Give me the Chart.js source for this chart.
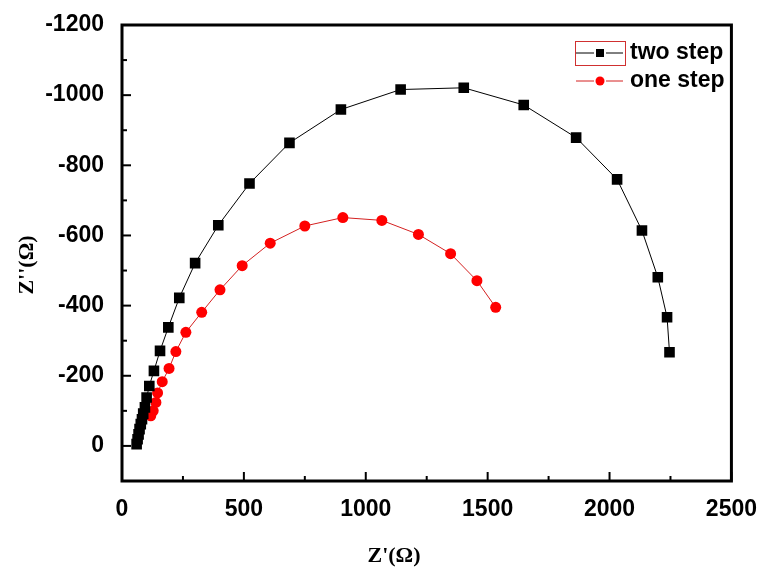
<!DOCTYPE html>
<html>
<head>
<meta charset="utf-8">
<script src="https://cdn.jsdelivr.net/npm/chart.js@4.4.0/dist/chart.umd.min.js"></script>
<style>
  body { margin: 0; background: #fff; }
  #wrap { width: 764px; height: 569px; }
</style>
</head>
<body>
<div id="wrap"><canvas id="myChart" width="764" height="569"></canvas></div>
<script>
// data
const twoStepX = [60, 64, 68, 72, 77, 82, 87, 94, 101, 112, 131, 156, 190, 235, 300, 395, 523, 687, 898, 1143, 1402, 1648, 1863, 2031, 2133, 2198, 2236, 2246];
const twoStepY = [-5, -19, -33, -48, -62, -76, -92, -110, -138, -171, -214, -271, -338, -422, -521, -629, -748, -864, -959, -1016, -1021, -972, -879, -760, -614, -481, -367, -267];

const oneStepX = [118, 128, 139, 146, 165, 193, 221, 262, 327, 402, 493, 608, 750, 906, 1066, 1216, 1348, 1456, 1533];
const oneStepY = [-86, -100, -124, -151, -183, -221, -269, -324, -381, -445, -514, -578, -627, -651, -643, -603, -548, -471, -395];

const xTicks = [0, 500, 1000, 1500, 2000, 2500];
const yTicks = [-1200, -1000, -800, -600, -400, -200, 0];

const seriesNames = ['two step', 'one step'];

const toPoints = (xs, ys) => xs.map((x, i) => ({x: x, y: ys[i]}));

// frame, inward ticks, axis titles, legend
const decor = {
    id: 'decor',
    afterDraw(chart) {
        const ctx = chart.ctx;
        const a = chart.chartArea;
        const xs = chart.scales.x;
        const ys = chart.scales.y;
        ctx.save();
        ctx.strokeStyle = '#000';
        ctx.lineWidth = 2;
        for (let v = 0; v <= 2500; v += 250) {
            const px = xs.getPixelForValue(v);
            const len = v % 500 === 0 ? 9 : 5;
            ctx.beginPath();
            ctx.moveTo(px, a.bottom);
            ctx.lineTo(px, a.bottom - len);
            ctx.stroke();
        }
        for (let v = -1200; v <= 0; v += 100) {
            const py = ys.getPixelForValue(v);
            const len = v % 200 === 0 ? 9 : 5;
            ctx.beginPath();
            ctx.moveTo(a.left, py);
            ctx.lineTo(a.left + len, py);
            ctx.stroke();
        }
        ctx.lineWidth = 3;
        ctx.strokeRect(a.left, a.top, a.right - a.left, a.bottom - a.top);

        // axis titles
        ctx.fillStyle = '#000';
        ctx.font = 'bold 22px "Liberation Serif", serif';
        ctx.textAlign = 'center';
        ctx.textBaseline = 'middle';
        ctx.fillText("Z'(\u03A9)", 394, 556);
        ctx.save();
        ctx.translate(27, 265);
        ctx.rotate(-Math.PI / 2);
        ctx.fillText("Z''(\u03A9)", 0, 0);
        ctx.restore();

        // legend
        const rows = [
            {y: 53, line: '#000', fill: '#000', shape: 'rect'},
            {y: 81, line: '#d42020', fill: '#ff0000', shape: 'circle'}
        ];
        ctx.font = 'bold 23px "Liberation Sans", Arial, sans-serif';
        ctx.textAlign = 'left';
        rows.forEach((r, i) => {
            ctx.strokeStyle = r.line;
            ctx.lineWidth = 1;
            ctx.beginPath();
            ctx.moveTo(576, r.y); ctx.lineTo(594, r.y);
            ctx.moveTo(606, r.y); ctx.lineTo(623, r.y);
            ctx.stroke();
            ctx.fillStyle = r.fill;
            if (r.shape === 'rect') {
                ctx.fillRect(596, r.y - 4, 8, 8);
            } else {
                ctx.beginPath();
                ctx.arc(600, r.y, 4.5, 0, Math.PI * 2);
                ctx.fill();
            }
            ctx.fillStyle = '#000';
            ctx.fillText(seriesNames[i], 630, r.y);
        });
        ctx.strokeStyle = '#d03030';
        ctx.lineWidth = 1;
        ctx.strokeRect(575.5, 41.5, 50, 24);
        ctx.restore();
    }
};

const config = {
    type: 'scatter',
    data: {
        datasets: [{
            label: seriesNames[0],
            data: toPoints(twoStepX, twoStepY),
            showLine: true,
            borderColor: '#000',
            borderWidth: 1,
            backgroundColor: '#000',
            pointStyle: 'rect',
            pointRadius: 7.5,
            pointBorderWidth: 0,
        },
            {
                label: seriesNames[1],
                data: toPoints(oneStepX, oneStepY),
                showLine: true,
                borderColor: '#d42020',
                borderWidth: 1,
                backgroundColor: '#ff0000',
                pointStyle: 'circle',
                pointRadius: 5.5,
                pointBorderWidth: 0,
            }
        ]
    },
    options: {
        responsive: false,
        animation: false,
        layout: {
            padding: {top: 25, right: 32, left: 0, bottom: 0}
        },
        scales: {
            x: {
                type: 'linear',
                min: 0,
                max: 2500,
                grid: {display: false},
                border: {display: false},
                afterFit: (s) => { s.height = 88; },
                afterBuildTicks: (s) => { s.ticks = xTicks.map(v => ({value: v})); },
                ticks: {
                    color: '#000',
                    padding: 7,
                    maxRotation: 0,
                    callback: (v) => String(v),
                    font: {family: '"Liberation Sans", Arial, sans-serif', size: 23, weight: 'bold'}
                }
            },
            y: {
                type: 'linear',
                reverse: true,
                min: -1200,
                max: 100,
                grid: {display: false},
                border: {display: false},
                afterFit: (s) => { s.width = 122; },
                afterBuildTicks: (s) => { s.ticks = yTicks.map(v => ({value: v})); },
                ticks: {
                    color: '#000',
                    padding: 10,
                    callback: (v) => String(v),
                    font: {family: '"Liberation Sans", Arial, sans-serif', size: 23, weight: 'bold'}
                }
            }
        },
        plugins: {
            legend: {display: false},
            tooltip: {enabled: false}
        }
    },
    plugins: [decor]
};

const myChart = new Chart(document.getElementById('myChart'), config);
</script>
</body>
</html>
